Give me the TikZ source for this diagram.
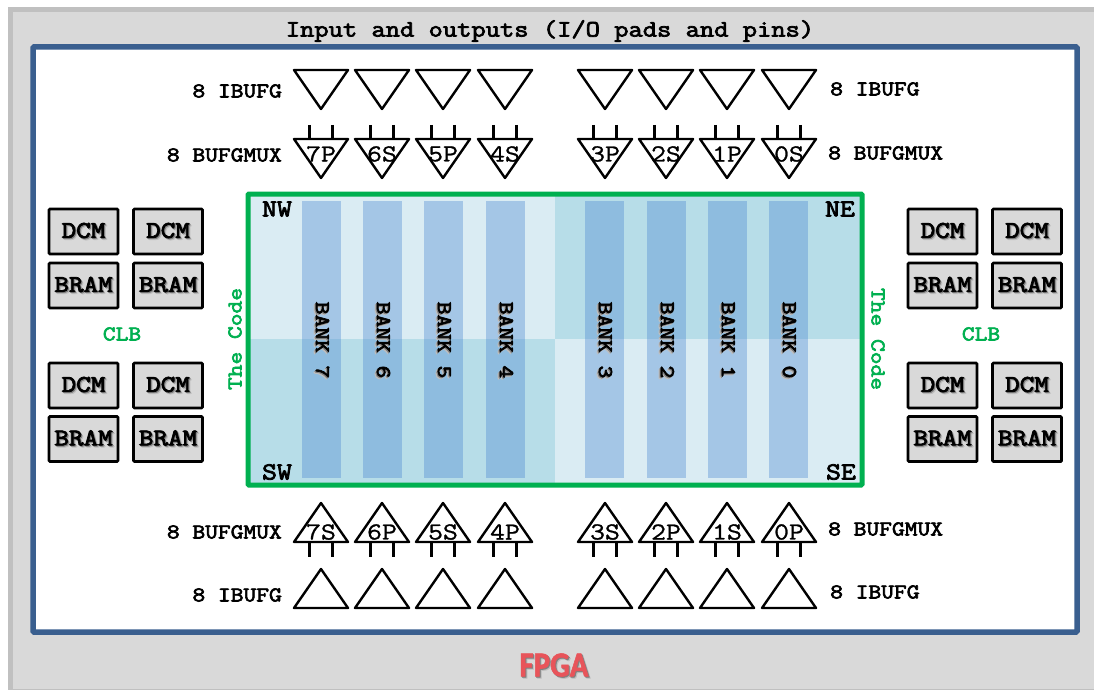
\documentclass[tikz,border=0pt]{standalone}
\usepackage{fontspec}
\usepackage{xcolor}
\setmonofont[FakeStretch=1.18, BoldFont={Latin Modern Mono}, BoldFeatures={FakeBold=3.2}]{Latin Modern Mono}
\newfontfamily\pinfont[FakeStretch=1.18, FakeBold=1]{Latin Modern Mono}
\newfontfamily\fpgafont[FakeStretch=0.88, BoldFeatures={FakeStretch=0.88, FakeBold=1.5}]{Carlito}
\usetikzlibrary{positioning}
\definecolor{panelgray}{HTML}{D9D9D9}
\definecolor{paneledge}{HTML}{C0C0C0}
\definecolor{boardblue}{HTML}{3A5F8F}
\definecolor{codegreen}{HTML}{00B050}
\definecolor{quadlight}{HTML}{DAECF3}
\definecolor{quaddark}{HTML}{B7DDE8}
\definecolor{bankblue}{RGB}{72,133,208}
\definecolor{fpgared}{HTML}{E8545A}
\newcommand{\softshadow}[1]{\rlap{\kern2pt\raisebox{-2pt}{\color{black!25}#1}}\rlap{\kern1pt\raisebox{-1pt}{\color{black!50}#1}}#1}
\tikzset{
    title/.style={font=\ttfamily\bfseries\fontsize{23.5}{23.5}\selectfont, inner sep=0pt},
    count/.style={font=\ttfamily\bfseries\fontsize{21}{21}\selectfont, inner sep=0pt},
    corner/.style={font=\ttfamily\bfseries\fontsize{24.5}{24.5}\selectfont, inner sep=0pt},
    pinname/.style={font=\pinfont\fontsize{24.5}{24.5}\selectfont, inner sep=0pt},
    bankname/.style={font=\ttfamily\bfseries\fontsize{21}{21}\selectfont, inner sep=0pt},
    greentext/.style={font=\ttfamily\bfseries\fontsize{21}{21}\selectfont, text=codegreen, inner sep=0pt},
    memblk/.style={rectangle, draw=black, line width=2.8pt, rounded corners=1pt, fill=panelgray, minimum width=69pt, minimum height=45pt, inner sep=0pt, font=\ttfamily\bfseries\fontsize{24}{24}\selectfont},
    bankbar/.style={fill=bankblue, fill opacity=0.37},
    buffer/.style={draw=black, line width=2.4pt, line join=round},
    pinline/.style={draw=black, line width=2.4pt}
}
\begin{document}
\begin{tikzpicture}[x=1pt, y=-1pt]
  \useasboundingbox (0,0) rectangle (1094,690);
  \fill[paneledge] (8,7) rectangle (1094,690);
  \fill[panelgray] (13,12) rectangle (1094,689);
  \draw[draw=boardblue, line width=5.5pt, fill=white, rounded corners=1pt] (33,47) rectangle (1077,632);
  \node[title] (iotitle) at (550,31) {Input and outputs (I/O pads and pins)};

  \fill[quadlight] (248,194) rectangle (555,339);
  \fill[quaddark] (555,194) rectangle (862,339);
  \fill[quaddark] (248,339) rectangle (555,485);
  \fill[quadlight] (555,339) rectangle (862,485);
  \foreach \bx/\bn in {302/7, 363/6, 424/5, 486/4, 585/3, 647/2, 708/1, 769/0} {
    \fill[bankbar] (\bx,201) rectangle +(39,277);
    \node[bankname, rotate=-90] (bank\bn) at (\bx+19.5,340) {\softshadow{BANK \bn}};
  }
  \draw[draw=codegreen, line width=5pt, rounded corners=1pt] (248,194) rectangle (862,485);
  \node[corner] (nw) at (277,209) {NW};
  \node[corner] (ne) at (840,209) {NE};
  \node[corner] (sw) at (277,472) {SW};
  \node[corner] (se) at (841,472) {SE};
  \node[greentext, rotate=90] (codew) at (235,339) {The Code};
  \node[greentext, rotate=-90] (codee) at (878,339) {The Code};

  \foreach \cx/\up/\lo in {321/7P/7S, 382/6S/6P, 443/5P/5S, 505/4S/4P, 605/3P/3S, 666/2S/2P, 727/1P/1S, 789/0S/0P} {
    \draw[buffer] (\cx-27,70) -- (\cx+27,70) -- (\cx,109) -- cycle;
    \draw[buffer] (\cx-27,139) -- (\cx+27,139) -- (\cx,178) -- cycle;
    \draw[pinline] (\cx-11.5,125) -- (\cx-11.5,139) (\cx+11.5,125) -- (\cx+11.5,139);
    \node[pinname] (top\up) at (\cx,154) {\up};
    \draw[buffer] (\cx-27,542) -- (\cx+27,542) -- (\cx,503) -- cycle;
    \draw[pinline] (\cx-11.5,542) -- (\cx-11.5,557) (\cx+11.5,542) -- (\cx+11.5,557);
    \node[pinname] (bot\lo) at (\cx,532) {\lo};
    \draw[buffer] (\cx-27,608) -- (\cx+27,608) -- (\cx,569) -- cycle;
  }

  \node[count, anchor=east] (ibufgnw) at (282,91) {8 IBUFG};
  \node[count, anchor=east] (muxnw) at (282,155) {8 BUFGMUX};
  \node[count, anchor=west] (ibufgne) at (830,89) {8 IBUFG};
  \node[count, anchor=west] (muxne) at (828,153) {8 BUFGMUX};
  \node[count, anchor=east] (muxsw) at (282,532) {8 BUFGMUX};
  \node[count, anchor=east] (ibufgsw) at (282,595) {8 IBUFG};
  \node[count, anchor=west] (muxse) at (828,529) {8 BUFGMUX};
  \node[count, anchor=west] (ibufgse) at (830,592) {8 IBUFG};

  \foreach \mx/\side in {83.5/a, 168/b, 942.5/c, 1027/d} {
    \node[memblk] (dcmup\side) at (\mx,231.5) {\softshadow{DCM}};
    \node[memblk] (bramup\side) at (\mx,285.5) {\softshadow{BRAM}};
    \node[memblk] (dcmlo\side) at (\mx,385.5) {\softshadow{DCM}};
    \node[memblk] (bramlo\side) at (\mx,439) {\softshadow{BRAM}};
  }
  \node[greentext] (clbw) at (122,334) {CLB};
  \node[greentext] (clbe) at (981,334) {CLB};
  \node[inner sep=0pt, text=fpgared, font=\fpgafont\bfseries\fontsize{35}{35}\selectfont] (fpga) at (554,666) {\softshadow{FPGA}};
\end{tikzpicture}
\end{document}
